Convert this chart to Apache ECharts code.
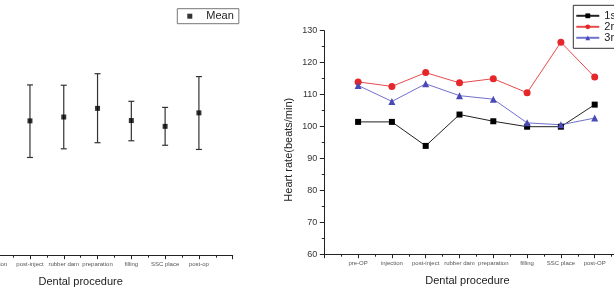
<!DOCTYPE html>
<html>
<head>
<meta charset="utf-8">
<script src="https://cdn.jsdelivr.net/npm/echarts@6/dist/echarts.min.js"></script>
<style>
html, body { margin: 0; padding: 0; background: #fff; }
#container { width: 614px; height: 290px; }
</style>
</head>
<body>
<div id="container"></div>
<script>
// x positions 1..8 on a 0..9 axis, like the original Origin plot
var procLeft = ['pre-op', 'injection', 'post-inject', 'rubber dam', 'preparation', 'filling', 'SSC place', 'post-op'];
var procRight = ['pre-OP', 'injection', 'post-inject', 'rubber dam', 'preparation', 'filling', 'SSC place', 'post-OP'];

// left panel: mean with error bars (first two are cut off in the picture)
var meanVal  = [null, null, 102.0, 103.2, 105.9, 102.1, 100.3, 104.5];
var meanHigh = [null, null, 113.2, 113.1, 116.7, 108.1, 106.2, 115.8];
var meanLow  = [null, null, 90.6, 93.3, 95.2, 95.8, 94.4, 93.1];

// right panel: heart rate per visit
var visit1 = [101.5, 101.5, 94.0, 103.8, 101.7, 100.0, 100.0, 106.9];
var visit2 = [114.0, 112.6, 116.9, 113.7, 115.0, 110.6, 126.4, 115.5];
var visit3 = [112.9, 107.9, 113.4, 109.7, 108.6, 101.2, 100.6, 102.7];

var yTicks = {min: 60, max: 130, interval: 10};

function pts(arr) {
    var out = [];
    for (var i = 0; i < arr.length; i++) {
        if (arr[i] != null) out.push([i + 1, arr[i]]);
    }
    return out;
}
function bars() {
    var out = [];
    for (var i = 0; i < meanVal.length; i++) {
        if (meanVal[i] != null) out.push([i + 1, meanLow[i], meanHigh[i]]);
    }
    return out;
}

function xAxisFor(idx, names) {
    return {
        type: 'value', gridIndex: idx, min: 0, max: 9, interval: 1,
        name: 'Dental procedure', nameLocation: 'middle', nameGap: 21,
        nameTextStyle: {fontFamily: 'Liberation Sans', fontSize: 11, color: '#222', padding: idx == 1 ? [0, 18, 0, 0] : 0},
        axisLine: {show: true, onZero: false, lineStyle: {color: '#222', width: 1}},
        axisTick: {show: true, length: 3.5, lineStyle: {color: '#222'}},
        minorTick: {show: true, splitNumber: 2, length: 2, lineStyle: {color: '#222'}},
        splitLine: {show: false},
        axisLabel: {
            margin: 6, fontSize: 6, color: '#555', fontFamily: 'Liberation Sans',
            formatter: function (v) { return (v >= 1 && v <= 8) ? names[v - 1] : ''; }
        }
    };
}
function yAxisFor(idx) {
    return {
        type: 'value', gridIndex: idx, min: yTicks.min, max: yTicks.max, interval: yTicks.interval,
        name: 'Heart rate(beats/min)', nameLocation: 'middle', nameGap: 30,
        nameTextStyle: {fontFamily: 'Liberation Sans', fontSize: 11, color: '#222', padding: [0, 14, 0, 0]},
        axisLine: {show: true, lineStyle: {color: '#222', width: 1}},
        axisTick: {show: true, length: 4.5, lineStyle: {color: '#222'}},
        minorTick: {show: true, splitNumber: 2, length: 2.5, lineStyle: {color: '#222'}},
        splitLine: {show: false},
        axisLabel: {margin: 7, fontSize: 9, color: '#333', fontFamily: 'Liberation Sans'}
    };
}

var dom = document.getElementById('container');
var myChart = echarts.init(dom, null, {renderer: 'canvas'});

var option = {
    backgroundColor: '#fff',
    animation: false,
    grid: [
        {left: -71.4, width: 304.1, top: 31, bottom: 34.3, outerBoundsMode: 'none', containLabel: false},
        {left: 324.3, width: 304.2, top: 30.7, bottom: 35.3, outerBoundsMode: 'none', containLabel: false}
    ],
    legend: [
        {
            data: ['Mean'], left: 177.3, top: 8.7, orient: 'vertical',
            itemWidth: 5, itemHeight: 5, padding: [2, 5, 2, 10],
            borderColor: '#777', borderWidth: 1,
            textStyle: {fontFamily: 'Liberation Sans', fontSize: 11, color: '#222', lineHeight: 11, padding: [0, 0, 0, 9]}
        },
        {
            data: ['1st', '2nd', '3rd'], left: 573.3, top: 5.3, orient: 'vertical',
            itemWidth: 23, itemHeight: 6, itemGap: 0, padding: [5, 12, 5, 2],
            borderColor: '#333', borderWidth: 1,
            textStyle: {fontFamily: 'Liberation Sans', fontSize: 11, color: '#222', lineHeight: 9}
        }
    ],
    xAxis: [xAxisFor(0, procLeft), xAxisFor(1, procRight)],
    yAxis: [yAxisFor(0), yAxisFor(1)],
    series: [
        {
            name: 'errbar', type: 'custom', xAxisIndex: 0, yAxisIndex: 0,
            data: bars(),
            renderItem: function (params, api) {
                var lo = api.coord([api.value(0), api.value(1)]);
                var hi = api.coord([api.value(0), api.value(2)]);
                var cap = 3;
                var st = {stroke: '#333', lineWidth: 1.2};
                return {
                    type: 'group',
                    children: [
                        {type: 'line', shape: {x1: lo[0], y1: lo[1], x2: hi[0], y2: hi[1]}, style: st},
                        {type: 'line', shape: {x1: lo[0] - cap, y1: lo[1], x2: lo[0] + cap, y2: lo[1]}, style: st},
                        {type: 'line', shape: {x1: hi[0] - cap, y1: hi[1], x2: hi[0] + cap, y2: hi[1]}, style: st}
                    ]
                };
            }
        },
        {
            name: 'Mean', type: 'scatter', xAxisIndex: 0, yAxisIndex: 0,
            symbol: 'rect', symbolSize: 5, itemStyle: {color: '#000'}, z: 5,
            data: pts(meanVal)
        },
        {
            name: '1st', type: 'line', xAxisIndex: 1, yAxisIndex: 1,
            symbol: 'rect', symbolSize: 6,
            lineStyle: {color: '#222', width: 1}, itemStyle: {color: '#000'},
            data: pts(visit1)
        },
        {
            name: '2nd', type: 'line', xAxisIndex: 1, yAxisIndex: 1,
            symbol: 'circle', symbolSize: 7,
            lineStyle: {color: '#e84b4b', width: 1}, itemStyle: {color: '#e5262b'},
            data: pts(visit2)
        },
        {
            name: '3rd', type: 'line', xAxisIndex: 1, yAxisIndex: 1,
            symbol: 'triangle', symbolSize: 7,
            lineStyle: {color: '#7171cf', width: 1}, itemStyle: {color: '#4a4ab6'},
            data: pts(visit3)
        }
    ]
};

if (option && typeof option === 'object') {
    myChart.setOption(option, true);
}
</script>
</body>
</html>
